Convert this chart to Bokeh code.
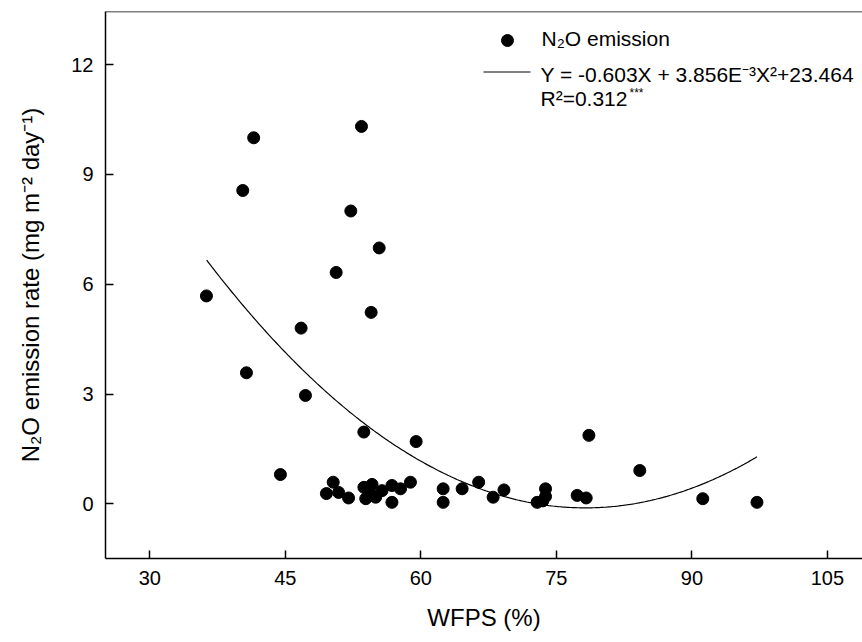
import numpy as np
from bokeh.plotting import figure
from bokeh.models import Range1d, Span, FixedTicker
from bokeh.embed import file_html
from bokeh.resources import INLINE
from bokeh.core.properties import value

# ---- data ----
wfps = [36.27, 40.29, 41.5, 40.7, 44.46, 53.43, 52.25, 55.39, 50.63, 54.5,
        46.75, 47.23, 53.69, 59.48, 78.6, 84.23, 91.2, 97.2,
        50.3, 49.55, 50.9, 52.0, 53.7, 54.6, 53.9, 55.0, 55.7, 56.8, 56.8,
        57.75, 58.85, 62.47, 62.47, 64.57, 66.4, 68.0, 69.2, 72.87, 73.8,
        73.8, 73.5, 77.3, 78.3, 54.4]
n2o = [5.68, 8.56, 10.0, 3.58, 0.80, 10.31, 8.0, 6.99, 6.32, 5.23,
       4.80, 2.96, 1.96, 1.70, 1.87, 0.91, 0.14, 0.04,
       0.59, 0.28, 0.31, 0.16, 0.45, 0.53, 0.14, 0.18, 0.36, 0.50, 0.04,
       0.41, 0.59, 0.41, 0.04, 0.41, 0.59, 0.18, 0.38, 0.04, 0.41,
       0.20, 0.08, 0.23, 0.16, 0.28]
x_ticks = [30, 45, 60, 75, 90, 105]
y_ticks = [0, 3, 6, 9, 12]
fit_coef = [23.464, -0.603, 3.856e-3]   # Y = c0 + c1*X + c2*X^2 (from legend)
fit_x_span = [36.3, 97.2]

# frame geometry (pixels) and ranges
FL, FR, FT, FB = 105, 862, 11, 558
X0, X1 = 25.1, 108.88
Y0, Y1 = -1.494, 13.45
FONT = "Liberation Sans"

p = figure(width=862, height=642, output_backend="svg", toolbar_location=None,
           x_range=Range1d(X0, X1), y_range=Range1d(Y0, Y1),
           min_border_left=FL, min_border_right=0, min_border_top=FT,
           min_border_bottom=642 - FB)
p.outline_line_color = None
p.grid.visible = False
p.background_fill_color = "white"

for ax in (p.xaxis[0], p.yaxis[0]):
    ax.axis_line_width = 1.5
    ax.axis_line_color = "black"
    ax.major_tick_line_width = 1.5
    ax.major_tick_line_color = "black"
    ax.major_tick_in = 8
    ax.major_tick_out = 0
    ax.minor_tick_line_color = None
    ax.major_label_text_font = FONT
    ax.major_label_text_font_size = "20px"
    ax.major_label_text_color = "black"
    ax.major_label_standoff = 12
    ax.axis_label_text_font = FONT
    ax.axis_label_text_font_size = "24px"
    ax.axis_label_text_font_style = "normal"
    ax.axis_label_text_color = "black"

p.xaxis.ticker = FixedTicker(ticks=x_ticks)
p.yaxis.ticker = FixedTicker(ticks=y_ticks)
p.xaxis.axis_label = "WFPS (%)"
p.yaxis.axis_label = "N\u2082O emission rate (mg m\u207b\u00b2 day\u207b\u00b9)"
p.xaxis.axis_label_standoff = 16
p.yaxis.axis_label_standoff = 24

p.add_layout(Span(location=Y1, dimension="width", line_color="black", line_width=1.5))

# fit curve from legend coefficients
fx = np.linspace(fit_x_span[0], fit_x_span[1], 300)
fy = fit_coef[0] + fit_coef[1] * fx + fit_coef[2] * fx ** 2
p.line(fx, fy, line_color="black", line_width=1.2)

p.scatter(wfps, n2o, size=12, marker="circle", fill_color="black", line_color="black")

# ---- legend (manual) ----
def px2x(px):
    return X0 + (px - FL) * (X1 - X0) / (FR - FL)

def py2y(py):
    return Y1 - (py - FT) * (Y1 - Y0) / (FB - FT)

p.scatter([px2x(507)], [py2y(40)], size=12, marker="circle", fill_color="black", line_color="black")
p.line([px2x(483), px2x(530)], [py2y(71.5), py2y(71.5)], line_color="black", line_width=1.2)
p.text(x=[px2x(541), px2x(540), px2x(540)], y=[py2y(38), py2y(74), py2y(98)],
       text=["N\u2082O emission", "Y = -0.603X + 3.856E\u207b\u00b3X\u00b2+23.464", "R\u00b2=0.312"],
       text_font=value(FONT), text_font_size="21px", text_baseline="middle",
       text_align="left", text_color="black")
p.text(x=[px2x(629)], y=[py2y(92)], text=["***"], text_font=value(FONT),
       text_font_size="12px", text_baseline="middle", text_align="left", text_color="black")

open("out.html", "w").write(file_html(p, INLINE))
